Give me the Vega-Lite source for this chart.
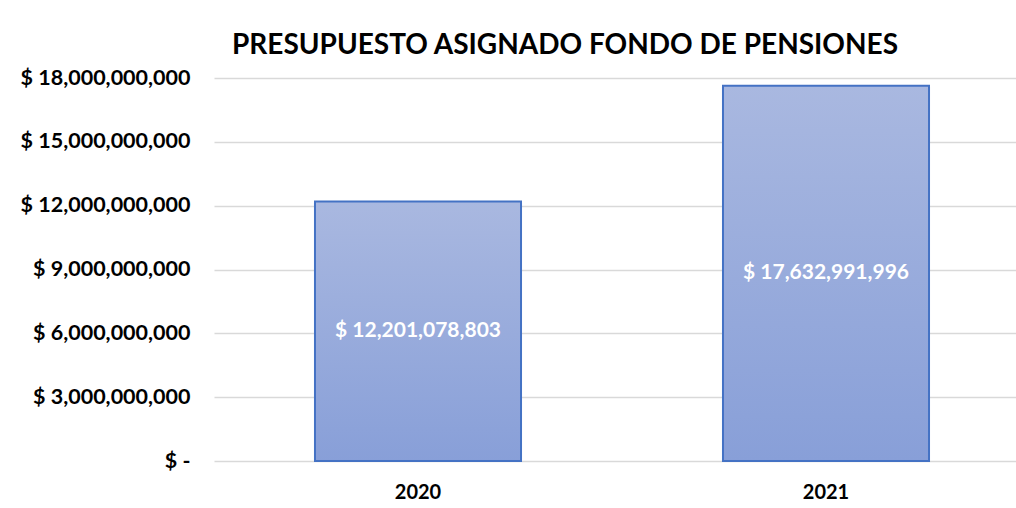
{
  "$schema": "https://vega.github.io/schema/vega-lite/v6.json",
  "width": 816,
  "height": 383,
  "autosize": "none",
  "padding": {"left": 214, "top": 78, "right": 0, "bottom": 47},
  "background": "white",
  "title": {
    "text": "PRESUPUESTO ASIGNADO FONDO DE PENSIONES",
    "font": "Lato",
    "fontSize": 28,
    "fontWeight": "bold",
    "color": "#000000",
    "anchor": "middle",
    "frame": "group",
    "baseline": "alphabetic",
    "offset": 21,
    "dx": -57,
    "dy": 36
  },
  "data": {
    "values": [
      {"year": "2020", "value": 12201078803},
      {"year": "2021", "value": 17632991996}
    ]
  },
  "encoding": {
    "x": {
      "field": "year",
      "type": "nominal",
      "scale": {"paddingInner": 0.495, "paddingOuter": 0.2475},
      "axis": {
        "title": null,
        "labelAngle": 0,
        "domain": false,
        "ticks": false,
        "labelFont": "Lato",
        "labelFontWeight": "bold",
        "labelFontSize": 20,
        "labelColor": "#000000",
        "labelPadding": 21
      }
    }
  },
  "layer": [
    {
      "mark": {
        "type": "bar",
        "fill": {
          "gradient": "linear",
          "x1": 0, "y1": 0, "x2": 0, "y2": 1,
          "stops": [
            {"offset": 0, "color": "#A9B8E0"},
            {"offset": 1, "color": "#889FD8"}
          ]
        },
        "stroke": "#4472C4",
        "strokeWidth": 2
      },
      "encoding": {
        "y": {
          "field": "value",
          "type": "quantitative",
          "scale": {"domain": [0, 18000000000], "nice": false},
          "axis": {
            "title": null,
            "domain": false,
            "ticks": false,
            "values": [0, 3000000000, 6000000000, 9000000000, 12000000000, 15000000000, 18000000000],
            "gridColor": "#D9D9D9",
            "gridWidth": 1.5,
            "labelFont": "Lato",
            "labelFontWeight": "bold",
            "labelFontSize": 21.5,
            "labelColor": "#000000",
            "labelPadding": 24,
            "labelExpr": "datum.value == 0 ? '$ -' : '$ ' + format(datum.value, ',')"
          }
        }
      }
    },
    {
      "mark": {
        "type": "text",
        "color": "#FFFFFF",
        "font": "Lato",
        "fontWeight": "bold",
        "fontSize": 21,
        "baseline": "middle",
        "align": "center",
        "text": {"expr": "'$ ' + format(datum.value, ',')"}
      },
      "encoding": {
        "y": {
          "field": "value",
          "type": "quantitative",
          "scale": {"domain": [0, 36000000000], "nice": false},
          "axis": null
        }
      }
    }
  ],
  "resolve": {"scale": {"y": "independent"}},
  "config": {"view": {"stroke": null}}
}
